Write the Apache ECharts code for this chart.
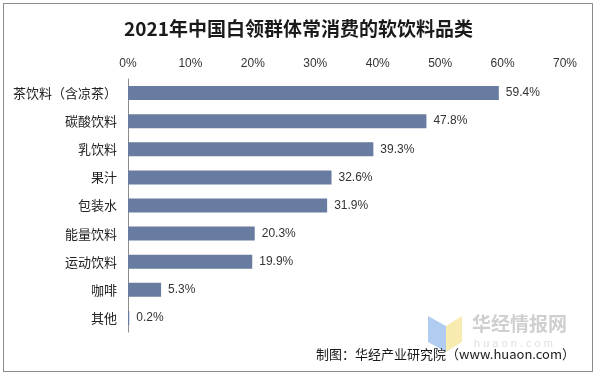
<!DOCTYPE html>
<html>
<head>
<meta charset="utf-8">
<script src="https://cdn.jsdelivr.net/npm/echarts@6/dist/echarts.min.js"></script>
<style>
    body { margin: 0; background: #fff; }
    #frame {
        position: absolute; left: 3px; top: 3px;
        width: 588px; height: 367px;
        border: 1px solid #8c8c8c;
    }
    #drinkBar { width: 597px; height: 376px; }
</style>
</head>
<body>
<div id="frame"></div>
<div id="drinkBar"></div>
<script>
    // 软饮料品类（自上而下）
    const categories = ['茶饮料（含凉茶）', '碳酸饮料', '乳饮料', '果汁', '包装水', '能量饮料', '运动饮料', '咖啡', '其他'];
    const shares = [59.4, 47.8, 39.3, 32.6, 31.9, 20.3, 19.9, 5.3, 0.2];
    const xTicks = [0, 10, 20, 30, 40, 50, 60, 70];

    let myChart = echarts.init(document.getElementById('drinkBar'));
    let option = {
        animation: false,
        title: {
            text: '2021年中国白领群体常消费的软饮料品类',
            left: 'center',
            top: 14,
            textStyle: {
                fontFamily: 'Noto Sans CJK SC',
                fontSize: 19,
                fontWeight: 'bold',
                color: '#1a1a1a'
            }
        },
        grid: {
            left: 128,
            right: 32,
            top: 79,
            bottom: 44
        },
        xAxis: {
            type: 'value',
            position: 'top',
            min: xTicks[0],
            max: xTicks[xTicks.length - 1],
            interval: 10,
            axisLine: {show: false},
            axisTick: {show: false},
            splitLine: {show: false},
            axisLabel: {
                formatter: '{value}%',
                color: '#333',
                fontSize: 12,
                margin: 9,
                fontFamily: 'Liberation Sans'
            }
        },
        yAxis: {
            type: 'category',
            inverse: true,
            data: categories,
            axisLine: {
                lineStyle: {color: '#8c8c8c'}
            },
            axisTick: {
                length: 4,
                lineStyle: {color: '#8c8c8c'}
            },
            axisLabel: {
                color: '#222',
                fontSize: 13,
                margin: 11,
                fontFamily: 'Noto Sans CJK SC'
            }
        },
        series: [{
            type: 'bar',
            data: shares,
            barWidth: 14,
            itemStyle: {color: '#687ba1'},
            label: {
                show: true,
                position: 'right',
                distance: 7,
                formatter: '{c}%',
                color: '#333',
                fontSize: 12,
                fontFamily: 'Liberation Sans'
            }
        }],
        graphic: [
            {
                type: 'polygon',
                shape: {points: [[428, 316], [446, 326], [446, 352], [428, 342]]},
                style: {fill: '#a9c6f0', opacity: 0.9}
            },
            {
                type: 'polygon',
                shape: {points: [[446, 326], [462, 316], [462, 342], [446, 352]]},
                style: {fill: '#f7e9a6', opacity: 0.9}
            },
            {
                type: 'text',
                left: 472,
                top: 314,
                style: {
                    text: '华经情报网',
                    fontSize: 19,
                    fontWeight: 'bold',
                    fontFamily: 'Noto Sans CJK SC',
                    fill: '#cfcfcf'
                }
            },
            {
                type: 'text',
                left: 474,
                top: 338,
                style: {
                    text: 'h u a o n . c o m',
                    fontSize: 11,
                    fontFamily: 'Liberation Sans',
                    fill: '#e0e0e0'
                }
            },
            {
                type: 'text',
                right: 22,
                top: 348,
                style: {
                    text: '制图：华经产业研究院（www.huaon.com）',
                    fontSize: 13,
                    fontFamily: 'Noto Sans CJK SC',
                    fill: '#1a1a1a'
                }
            }
        ]
    };
    myChart.setOption(option);
</script>
</body>
</html>
